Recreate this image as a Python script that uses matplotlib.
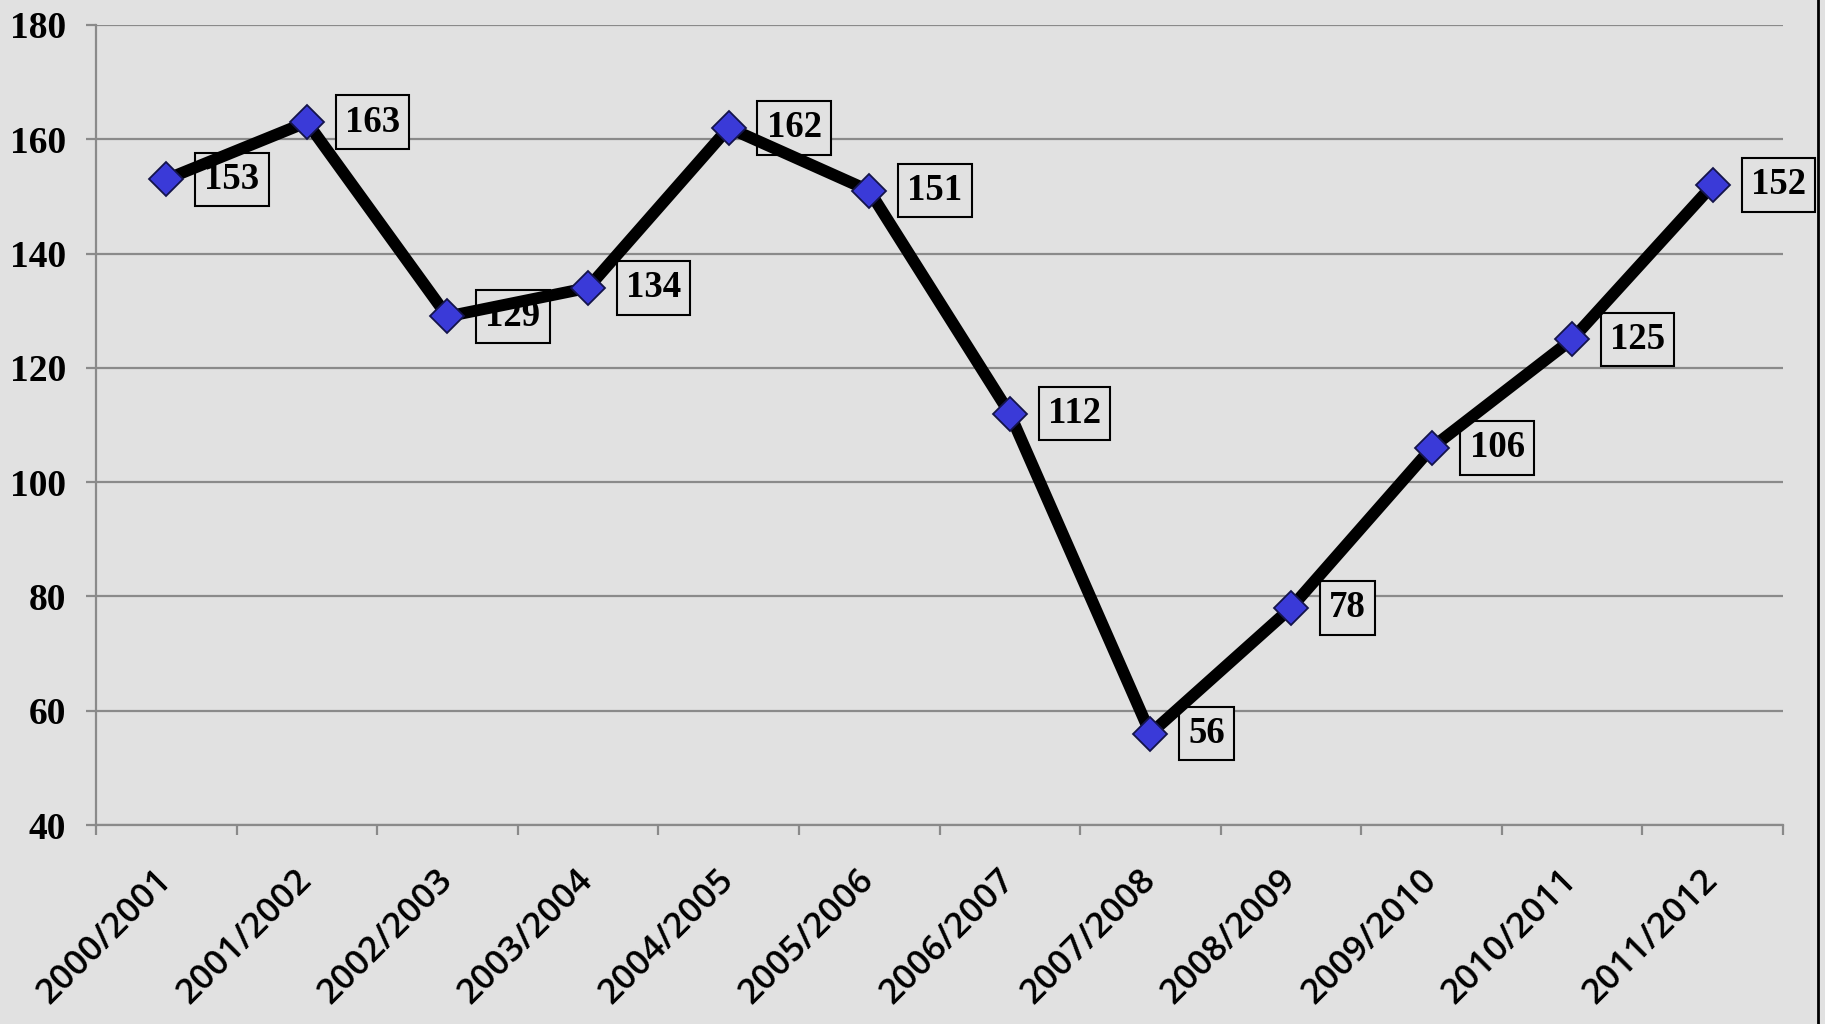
import matplotlib
matplotlib.use("Agg")
import matplotlib.pyplot as plt
from matplotlib.lines import Line2D
import numpy as np

seasons = ["2000/2001", "2001/2002", "2002/2003", "2003/2004", "2004/2005", "2005/2006",
           "2006/2007", "2007/2008", "2008/2009", "2009/2010", "2010/2011", "2011/2012"]
values = [153, 163, 129, 134, 162, 151, 112, 56, 78, 106, 125, 152]
y_ticks = [40, 60, 80, 100, 120, 140, 160, 180]

BG = "#e1e1e1"
GRID = "#8a8a8a"

fig = plt.figure(figsize=(18.25, 10.24), dpi=100, facecolor=BG)
ax = fig.add_axes([0.0526, 0.1943, 0.977 - 0.0526, 0.9756 - 0.1943], facecolor=BG)

x = np.arange(len(values))
ax.plot(x, values, color="black", lw=8.5, zorder=4, solid_joinstyle="miter")
ax.plot(x, values, linestyle="none", marker="D", ms=17, mfc="#3a3ad8",
        mec="#14144a", mew=1.3, zorder=5)

for xi, v in zip(x, values):
    ax.annotate(str(v), (xi, v), xytext=(38, 0), textcoords="offset pixels",
                ha="left", va="center", fontsize=26.5, fontweight="bold",
                family="Liberation Serif", color="black", zorder=3,
                bbox=dict(boxstyle="square,pad=0.25", fc=BG, ec="black", lw=1.5))

ax.set_xlim(-0.5, len(values) - 0.5)
ax.set_ylim(40, 180)
ax.set_yticks(y_ticks)
ax.set_yticklabels([str(t) for t in y_ticks], fontsize=27, fontweight="bold",
                   family="Liberation Serif")
ax.yaxis.grid(True, color=GRID, lw=1.6, zorder=1)
ax.set_axisbelow(True)

ax.set_xticks(x)
ax.set_xticklabels(seasons, rotation=45, ha="right", va="center",
                   rotation_mode="anchor", fontsize=25.5, fontweight="semibold",
                   family="Open Sans")
ax.set_xticks(np.arange(-0.5, len(values) + 0.5, 1), minor=True)
ax.tick_params(axis="x", which="major", length=0, pad=36)
ax.tick_params(axis="x", which="minor", length=7.5, width=1.6, color=GRID, direction="out")
ax.tick_params(axis="y", length=7.5, width=1.6, color=GRID, pad=14)

for s in ["top", "right"]:
    ax.spines[s].set_visible(False)
for s in ["left", "bottom"]:
    ax.spines[s].set_color(GRID)
    ax.spines[s].set_linewidth(1.6)

fig.add_artist(Line2D([0.9962, 0.9962], [0, 1], transform=fig.transFigure,
                      color="black", lw=2))

fig.savefig("out.png", dpi=100, facecolor=BG)
